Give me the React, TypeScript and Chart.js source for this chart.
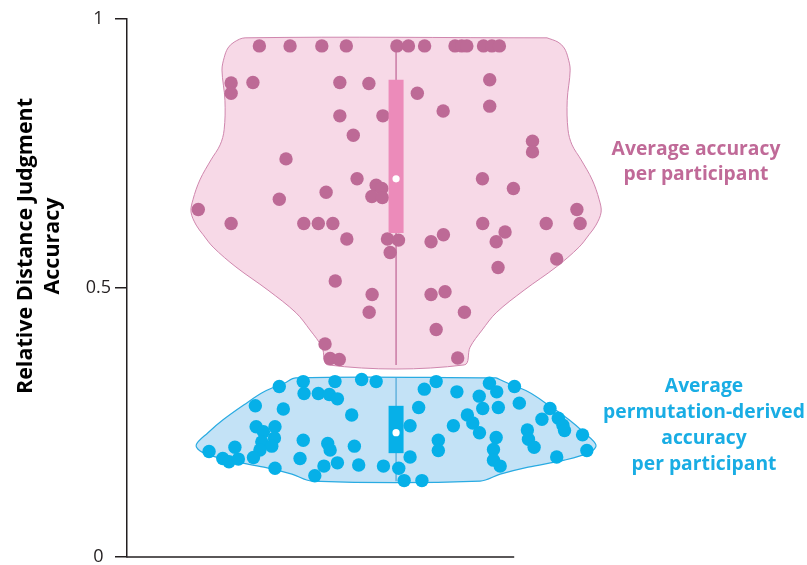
import React, { useEffect, useRef } from 'react';
import { Chart, registerables } from 'chart.js';

Chart.register(...registerables);

// Per-participant average accuracy: horizontal jitter and accuracy value
const participantJitter = [
  -0.508, -0.394, -0.276, -0.185, 0.003, 0.046, 0.106, 0.219, 0.244, 0.263, 0.325, 0.356, 0.384,
  -0.613, -0.613, -0.532, -0.209, -0.101, 0.079, 0.348, 0.348, 0.175, -0.209, -0.049, -0.159,
  -0.409, 0.507, 0.507, -0.145, 0.321, 0.436, -0.074, -0.053, -0.09, -0.051, -0.26, -0.434,
  -0.735, 0.672, 0.684, -0.613, -0.343, -0.289, -0.235, 0.322, 0.558, 0.405, -0.183, -0.032,
  0.009, 0.176, 0.13, 0.372, -0.022, 0.597, 0.379, -0.226, -0.089, -0.1, 0.13, 0.182, 0.254,
  0.149, -0.264, -0.245, -0.211, 0.229,
];
const participantAccuracy = [
  0.95, 0.95, 0.95, 0.95, 0.95, 0.95, 0.95, 0.95, 0.95, 0.95, 0.95, 0.95, 0.95,
  0.881, 0.862, 0.882, 0.882, 0.88, 0.862, 0.887, 0.838, 0.829, 0.82, 0.82, 0.784,
  0.74, 0.773, 0.753, 0.703, 0.703, 0.685, 0.691, 0.685, 0.67, 0.668, 0.678, 0.665,
  0.646, 0.646, 0.62, 0.62, 0.62, 0.62, 0.62, 0.62, 0.62, 0.604, 0.591, 0.591,
  0.589, 0.599, 0.586, 0.586, 0.566, 0.554, 0.538, 0.513, 0.488, 0.455, 0.488, 0.493, 0.455,
  0.423, 0.396, 0.369, 0.367, 0.37,
];

// Per-participant permutation-derived accuracy: jitter and accuracy value
const permutationJitter = [
  -0.434, -0.345, -0.342, -0.289, -0.227, -0.248, -0.218, -0.128, -0.074, -0.523, -0.419, -0.165,
  -0.52, -0.493, -0.45, -0.452, -0.499, -0.462, -0.506, -0.53, -0.695, -0.644, -0.621, -0.586,
  -0.599, -0.45, -0.345, -0.357, -0.254, -0.245, -0.155, -0.268, -0.218, -0.302, -0.139, -0.047,
  0.01, 0.03, 0.096, 0.052, 0.052, 0.084, 0.105, 0.149, 0.226, 0.213, 0.157, 0.157,
  0.265, 0.285, 0.31, 0.309, 0.322, 0.347, 0.374, 0.38, 0.44, 0.458, 0.372, 0.362,
  0.362, 0.387, 0.488, 0.492, 0.513, 0.542, 0.572, 0.603, 0.62, 0.626, 0.693, 0.709, 0.597,
];
const permutationAccuracy = [
  0.317, 0.326, 0.304, 0.304, 0.326, 0.302, 0.294, 0.33, 0.326, 0.281, 0.275, 0.264,
  0.242, 0.233, 0.242, 0.221, 0.214, 0.206, 0.199, 0.185, 0.196, 0.183, 0.177, 0.182,
  0.204, 0.165, 0.217, 0.183, 0.211, 0.199, 0.206, 0.169, 0.175, 0.151, 0.171, 0.169,
  0.165, 0.142, 0.142, 0.186, 0.244, 0.278, 0.312, 0.326, 0.307, 0.244, 0.217, 0.198,
  0.264, 0.249, 0.231, 0.299, 0.276, 0.323, 0.307, 0.278, 0.317, 0.286, 0.222, 0.2,
  0.18, 0.169, 0.236, 0.219, 0.204, 0.256, 0.276, 0.258, 0.245, 0.235, 0.227, 0.198, 0.186,
];

// Violin outlines: accuracy levels and kernel density half-widths
const participantLevels = [
  0.965, 0.957, 0.946, 0.928, 0.905, 0.849, 0.794, 0.766, 0.738, 0.701, 0.664,
  0.641, 0.617, 0.599, 0.576, 0.539, 0.496, 0.454, 0.422, 0.39, 0.357,
];
const participantDensity = [
  0.561, 0.602, 0.625, 0.639, 0.647, 0.636, 0.639, 0.654, 0.688, 0.729, 0.755,
  0.762, 0.743, 0.717, 0.68, 0.595, 0.476, 0.372, 0.32, 0.275, 0.253,
];
const permutationLevels = [0.333, 0.323, 0.307, 0.283, 0.255, 0.231, 0.208, 0.195, 0.18, 0.167, 0.154, 0.141];
const permutationDensity = [0.372, 0.416, 0.491, 0.565, 0.643, 0.699, 0.743, 0.721, 0.625, 0.491, 0.387, 0.312];

// Box summaries: [min, q1, median, q3, max]
const participantSummary = [0.357, 0.602, 0.703, 0.887, 0.95];
const permutationSummary = [0.141, 0.193, 0.231, 0.281, 0.333];

const yTickValues = [0, 0.5, 1];
const yTickLabels = ['0', '0.5', '1'];
const yTitleLines = ['Relative Distance Judgment', 'Accuracy'];
const participantLabel = ['Average accuracy', 'per participant'];
const permutationLabel = ['Average', 'permutation-derived', 'accuracy', 'per participant'];

// Extent of the drawn x baseline, in density units
const xAxisEnd = 0.439;

const INK = '#231f20';
const FONT = "'Open Sans', 'Noto Sans', sans-serif";
const PINK_POINT = '#bd6a96';
const PINK_FILL = '#f7d9e7';
const PINK_EDGE = '#cf86ad';
const PINK_LINE = '#c97aa5';
const PINK_BOX = '#ec8bba';
const PINK_TEXT = '#c06a98';
const BLUE_POINT = '#06b0e8';
const BLUE_FILL = '#c3e2f6';
const BLUE_EDGE = '#29abe2';
const BLUE_LINE = '#4aa6d8';
const BLUE_TEXT = '#19ade4';

const outline = (levels: number[], widths: number[]) => {
  const right = levels.map((v, i) => ({ x: widths[i], y: v }));
  const left = levels.map((v, i) => ({ x: -widths[i], y: v })).reverse();
  return [...right, ...left, right[0]];
};

const zip = (xs: number[], ys: number[]) => xs.map((x, i) => ({ x, y: ys[i] }));

const baselinePlugin = {
  id: 'baseline',
  afterDraw(chart: any) {
    const { ctx, chartArea, scales } = chart;
    const y = scales.y.getPixelForValue(0);
    ctx.save();
    ctx.strokeStyle = INK;
    ctx.lineWidth = 1.5;
    ctx.beginPath();
    ctx.moveTo(chartArea.left - 0.75, y);
    ctx.lineTo(scales.x.getPixelForValue(xAxisEnd), y);
    ctx.stroke();
    ctx.restore();
  },
};

const textPlugin = {
  id: 'textLabels',
  afterDraw(chart: any) {
    const { ctx } = chart;
    ctx.save();
    ctx.textAlign = 'center';
    ctx.textBaseline = 'middle';

    // rotated y-axis title
    ctx.save();
    ctx.translate(0, 246);
    ctx.rotate(-Math.PI / 2);
    ctx.fillStyle = '#000';
    ctx.font = `bold 21.5px ${FONT}`;
    ctx.fillText(yTitleLines[0], 0, 26);
    ctx.fillText(yTitleLines[1], 0, 53);
    ctx.restore();

    ctx.font = `bold 19.3px ${FONT}`;
    ctx.fillStyle = PINK_TEXT;
    participantLabel.forEach((t, i) => ctx.fillText(t, 696, 150 + i * 25));
    ctx.fillStyle = BLUE_TEXT;
    permutationLabel.forEach((t, i) => ctx.fillText(t, 704, 387 + i * 25.7));
    ctx.restore();
  },
};

export default function App() {
  const ref = useRef<HTMLCanvasElement>(null);

  useEffect(() => {
    if (!ref.current) return;
    const line = { showLine: true, pointRadius: 0, clip: false as any };
    const chart = new Chart(ref.current, {
      type: 'scatter',
      data: {
        datasets: [
          {
            ...line, data: [{ x: 0, y: participantSummary[2] }, { x: 0, y: permutationSummary[2] }],
            showLine: false, pointRadius: 3.6, pointBackgroundColor: '#ffffff', pointBorderWidth: 0, order: 1,
          },
          {
            ...line, data: [{ x: 0, y: participantSummary[1] }, { x: 0, y: participantSummary[3] }],
            borderColor: PINK_BOX, borderWidth: 15, borderCapStyle: 'butt', order: 2,
          },
          {
            ...line, data: [{ x: 0, y: permutationSummary[1] }, { x: 0, y: permutationSummary[3] }],
            borderColor: BLUE_POINT, borderWidth: 15, borderCapStyle: 'butt', order: 2,
          },
          {
            ...line, data: zip(participantJitter, participantAccuracy), showLine: false,
            pointRadius: 6.7, pointBackgroundColor: PINK_POINT, pointBorderWidth: 0, order: 3,
          },
          {
            ...line, data: zip(permutationJitter, permutationAccuracy), showLine: false,
            pointRadius: 6.7, pointBackgroundColor: BLUE_POINT, pointBorderWidth: 0, order: 3,
          },
          {
            ...line, data: [{ x: 0, y: participantSummary[0] }, { x: 0, y: participantSummary[4] }],
            borderColor: PINK_LINE, borderWidth: 1.5, order: 4,
          },
          {
            ...line, data: [{ x: 0, y: permutationSummary[0] }, { x: 0, y: permutationSummary[4] }],
            borderColor: BLUE_LINE, borderWidth: 1.2, order: 4,
          },
          {
            ...line, data: outline(participantLevels, participantDensity), fill: 'shape', tension: 0.35,
            backgroundColor: PINK_FILL, borderColor: PINK_EDGE, borderWidth: 1, order: 5,
          },
          {
            ...line, data: outline(permutationLevels, permutationDensity), fill: 'shape', tension: 0.35,
            backgroundColor: BLUE_FILL, borderColor: BLUE_EDGE, borderWidth: 1.2, order: 5,
          },
        ] as any,
      },
      options: {
        animation: false,
        responsive: false,
        events: [],
        layout: { padding: { top: 19, bottom: 8, left: 0, right: 10 } },
        plugins: { legend: { display: false }, tooltip: { enabled: false } },
        scales: {
          x: { type: 'linear', min: -1, max: 1.49, display: false },
          y: {
            type: 'linear',
            min: 0,
            max: 1,
            afterBuildTicks: (s: any) => {
              s.ticks = yTickValues.map((value) => ({ value }));
            },
            afterFit: (s: any) => {
              s.width = 127;
              s.paddingTop = 0;
              s.paddingBottom = 0;
            },
            border: { display: true, color: INK, width: 1.5 },
            grid: { drawOnChartArea: false, drawTicks: true, tickLength: 12, color: INK, lineWidth: 1.5 },
            ticks: {
              padding: 4,
              crossAlign: 'center',
              color: INK,
              font: { family: FONT, size: 18 },
              callback: (v: any) => yTickLabels[yTickValues.indexOf(Number(v))],
            },
          },
        },
      } as any,
      plugins: [baselinePlugin, textPlugin],
    });
    return () => chart.destroy();
  }, []);

  return (
    <div style={{ position: 'absolute', left: 0, top: 0, width: 807, height: 565 }}>
      <canvas ref={ref} width={807} height={565} />
    </div>
  );
}
